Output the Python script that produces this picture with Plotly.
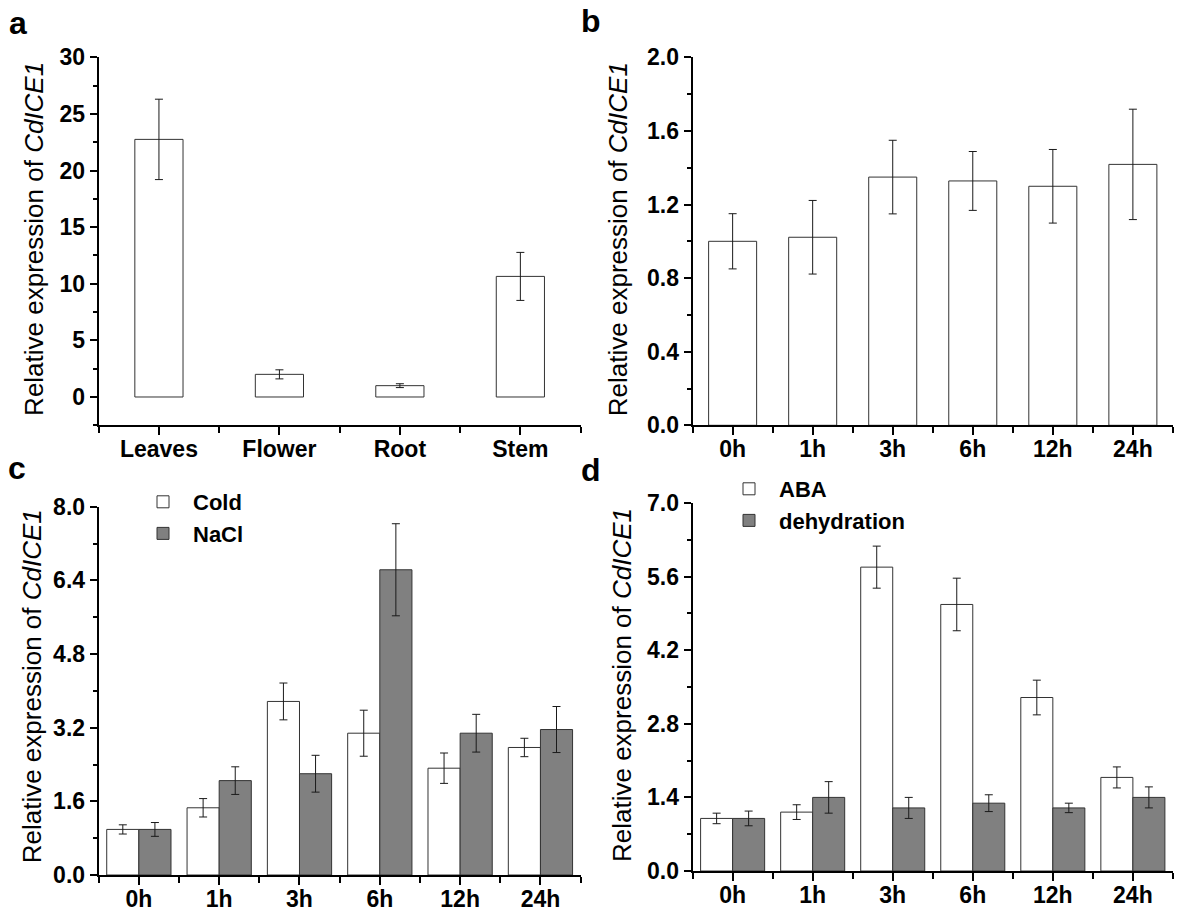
import plotly.graph_objects as go

# ---------------- data ----------------
tissues = ["Leaves", "Flower", "Root", "Stem"]
tissue_expr = [22.75, 2.0, 1.0, 10.65]
tissue_err = [3.55, 0.4, 0.17, 2.12]

times = ["0h", "1h", "3h", "6h", "12h", "24h"]
time_expr = [1.0, 1.022, 1.349, 1.328, 1.299, 1.418]
time_err = [0.15, 0.2, 0.2, 0.16, 0.2, 0.30]

cold_expr = [0.99, 1.46, 3.77, 3.08, 2.32, 2.77]
cold_err = [0.10, 0.20, 0.40, 0.50, 0.33, 0.20]
nacl_expr = [0.99, 2.05, 2.20, 6.63, 3.08, 3.16]
nacl_err = [0.15, 0.30, 0.40, 1.00, 0.41, 0.50]

aba_expr = [1.0, 1.12, 5.78, 5.07, 3.30, 1.78]
aba_err = [0.10, 0.14, 0.40, 0.50, 0.33, 0.20]
dehy_expr = [1.0, 1.40, 1.20, 1.29, 1.20, 1.40]
dehy_err = [0.14, 0.30, 0.20, 0.16, 0.09, 0.20]

# ---------------- style ----------------
W, H = 1200, 924
FONT = "Arial, 'Liberation Sans', sans-serif"
WHITE_FILL = "#ffffff"
GRAY_FILL = "#808080"
EDGE = "#333333"
ERR = "#1a1a1a"

def px_x(v):
    return v / W

def px_y(v):
    return 1 - v / H

fig = go.Figure()

def add_bar(x_idx, y, err, fill, name, xa, ya, width, offset=None, showlegend=False, legend="legend"):
    kw = {}
    if offset is not None:
        kw["offset"] = offset
    fig.add_trace(go.Bar(
        x=x_idx, y=y, name=f"<b>{name}</b>", width=width,
        marker=dict(color=fill, line=dict(color=EDGE, width=1)),
        error_y=dict(type="data", array=err, visible=True, color=ERR, thickness=1, width=4),
        xaxis=xa, yaxis=ya, showlegend=showlegend, legend=legend, **kw))

ia = list(range(len(tissues)))
it = list(range(len(times)))

# a
add_bar(ia, tissue_expr, tissue_err, WHITE_FILL, "tissue", "x", "y", 0.4)
# b
add_bar(it, time_expr, time_err, WHITE_FILL, "time", "x2", "y2", 0.6)
# c
add_bar(it, cold_expr, cold_err, WHITE_FILL, "Cold", "x3", "y3", 0.4, offset=-0.4, showlegend=True, legend="legend")
add_bar(it, nacl_expr, nacl_err, GRAY_FILL, "NaCl", "x3", "y3", 0.4, offset=0.0, showlegend=True, legend="legend")
# d
add_bar(it, aba_expr, aba_err, WHITE_FILL, "ABA", "x4", "y4", 0.4, offset=-0.4, showlegend=True, legend="legend2")
add_bar(it, dehy_expr, dehy_err, GRAY_FILL, "dehydration", "x4", "y4", 0.4, offset=0.0, showlegend=True, legend="legend2")

tickfont = dict(family=FONT, size=23, color="black")

def xaxis(cats, dom, anchor):
    n = len(cats)
    return dict(
        domain=dom, anchor=anchor, range=[-0.5, n - 0.5], automargin=False,
        tickmode="array", tickvals=list(range(n)), ticktext=[f"<b>{c}</b>" for c in cats],
        ticks="outside", ticklen=8, tickwidth=1.5, tickcolor="black", ticklabelstandoff=-6,
        minor=dict(tickmode="array", tickvals=[i - 0.5 for i in range(n + 1)],
                   ticks="outside", ticklen=6, tickwidth=1.5, tickcolor="black"),
        showline=True, linecolor="black", linewidth=2, showgrid=False, zeroline=False,
        tickfont=tickfont, fixedrange=True)

def yaxis(rng, dtick, minor, dom, anchor, fmt):
    return dict(
        domain=dom, anchor=anchor, range=rng, automargin=False,
        tickmode="linear", tick0=0, dtick=dtick, tickformat=fmt,
        ticks="outside", ticklen=7, tickwidth=1.5, tickcolor="black",
        minor=dict(tickmode="linear", tick0=0, dtick=minor, ticks="outside", ticklen=4,
                   tickwidth=1.5, tickcolor="black"),
        showline=True, linecolor="black", linewidth=2, showgrid=False, zeroline=False,
        tickfont=dict(family=FONT, size=23, color="black"), tickprefix="<b>", ticksuffix="</b>",
        fixedrange=True)

xa_dom = [px_x(98.7), px_x(580.6)]
xb_dom = [px_x(692.6), px_x(1172.9)]
top_dom = [px_y(425.3), px_y(57.3)]
c_dom = [px_y(875), px_y(506.7)]
d_dom = [px_y(871), px_y(503)]

legend_font = dict(family=FONT, size=22, color="black")

fig.update_layout(
    template="none",
    width=W, height=H, margin=dict(l=0, r=0, t=0, b=0, autoexpand=False),
    paper_bgcolor="white", plot_bgcolor="white",
    barmode="overlay",
    xaxis=xaxis(tissues, xa_dom, "y"),
    yaxis=yaxis([-2.5, 30], 5, 2.5, top_dom, "x", "d"),
    xaxis2=xaxis(times, xb_dom, "y2"),
    yaxis2=yaxis([0, 2.0], 0.4, 0.2, top_dom, "x2", ".1f"),
    xaxis3=xaxis(times, xa_dom, "y3"),
    yaxis3=yaxis([0, 8.0], 1.6, 0.8, c_dom, "x3", ".1f"),
    xaxis4=xaxis(times, xb_dom, "y4"),
    yaxis4=yaxis([0, 7.0], 1.4, 0.7, d_dom, "x4", ".1f"),
    legend=dict(x=px_x(133), y=px_y(481), xanchor="left", yanchor="top",
                bgcolor="rgba(0,0,0,0)", font=legend_font, itemwidth=50,
                traceorder="normal", tracegroupgap=0, borderwidth=0),
    legend2=dict(x=px_x(719), y=px_y(468), xanchor="left", yanchor="top",
                 bgcolor="rgba(0,0,0,0)", font=legend_font, itemwidth=50,
                 traceorder="normal", tracegroupgap=0, borderwidth=0),
    font=dict(family=FONT, color="black"),
)

ytitle = "Relative expression of <i>CdICE1</i>"
title_pos = [(33.9, 239), (618.2, 239), (31.6, 686.7), (622, 685)]
for (x, y) in title_pos:
    fig.add_annotation(text=ytitle, x=px_x(x), y=px_y(y), xref="paper", yref="paper",
                       xanchor="center", yanchor="middle", textangle=-90, showarrow=False,
                       font=dict(family=FONT, size=26, color="black"))

letters = [("a", 18, 23), ("b", 591, 21), ("c", 17, 468), ("d", 591, 470)]
for (t, x, y) in letters:
    fig.add_annotation(text=f"<b>{t}</b>", x=px_x(x), y=px_y(y), xref="paper", yref="paper",
                       xanchor="center", yanchor="middle", showarrow=False,
                       font=dict(family=FONT, size=32, color="black"))

fig.write_html("out.html", config={"displayModeBar": False},
               post_script="document.body.style.margin='0';document.body.style.overflow='hidden';")
